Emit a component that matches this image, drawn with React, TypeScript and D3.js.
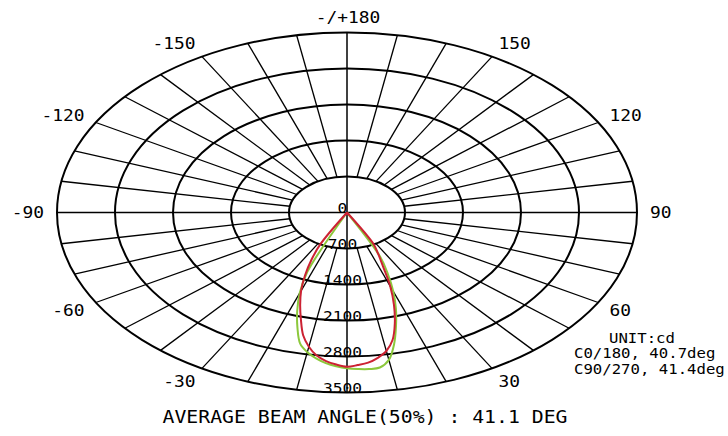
import React from "react";
import * as d3 from "d3";

// ---- data ----
const ringValues = [700, 1400, 2100, 2800, 3500];
const intensityTicks = [0, 700, 1400, 2100, 2800, 3500];
const angleLabels = [-150, -120, -90, -60, -30, 30, 60, 90, 120, 150, 180];
const curveAngles = [-30, -27.5, -25, -22.5, -20, -17.5, -15, -12.5, -10, -7.5, -5, -2.5, 0, 2.5, 5, 7.5, 10, 12.5, 15, 17.5, 20, 22.5, 25, 27.5, 30];
const c0Values = [0, 700, 1015, 1325, 1620, 1880, 2150, 2445, 2650, 2805, 2900, 2960, 3000, 2970, 2930, 2850, 2735, 2540, 2230, 1885, 1525, 1135, 890, 700, 0];
const c90Values = [0, 0, 0, 1250, 1670, 1997, 2312, 2612, 2758, 2860, 2939, 2993, 3030, 3046, 3055, 3040, 2910, 2625, 2285, 1964, 1632, 1284, 940, 0, 0];
const legendLines = ["UNIT:cd", "C0/180, 40.7deg", "C90/270, 41.4deg"];
const footer = "AVERAGE BEAM ANGLE(50%) : 41.1 DEG";

const W = 728, H = 436;
const cx = 347, cy = 212.5, RX = 290, RY = 180;
const FONT = "'DejaVu Sans Mono', monospace";

const r = d3.scaleLinear().domain([0, 3500]).range([0, 1]);
const rad = (deg: number) => (deg * Math.PI) / 180;
const pt = (deg: number, v: number): [number, number] => [
  cx + RX * r(v) * Math.sin(rad(deg)),
  cy + RY * r(v) * Math.cos(rad(deg)),
];

function T({ x, y, anchor = "start", size = 14.5, k = 1.12, children }: any) {
  return (
    <text
      transform={`translate(${x},${y}) scale(${k},1)`}
      textAnchor={anchor}
      fontFamily={FONT}
      fontSize={size}
      fill="#000"
    >
      {children}
    </text>
  );
}

export default function App() {
  const radials = d3.range(-170, 190, 10).filter((a) => a % 90 !== 0);
  const line = d3
    .line<[number, number]>()
    .x((d) => d[0])
    .y((d) => d[1])
    .curve(d3.curveCatmullRom.alpha(0.5));
  const pathFor = (vals: number[]) =>
    line(curveAngles.map((a, i) => pt(a, vals[i]))) || "";

  return (
    <svg width={W} height={H} style={{ position: "absolute", left: 0, top: 0, background: "#fff" }}>
      <rect width={W} height={H} fill="#fff" />
      {radials.map((a) => {
        const [x1, y1] = pt(a, ringValues[0]);
        const [x2, y2] = pt(a, 3500);
        return <line key={a} x1={x1} y1={y1} x2={x2} y2={y2} stroke="#000" strokeWidth={1.3} />;
      })}
      <line x1={cx - RX} y1={cy} x2={cx + RX} y2={cy} stroke="#000" strokeWidth={1.5} />
      <line x1={cx} y1={cy - RY} x2={cx} y2={cy + RY} stroke="#000" strokeWidth={1.5} />
      {ringValues.map((v) => (
        <ellipse key={v} cx={cx} cy={cy} rx={RX * r(v)} ry={RY * r(v)} fill="none" stroke="#000" strokeWidth={2} />
      ))}
      {intensityTicks.map((v) => (
        <T key={v} x={cx - 4.5} y={cy + RY * r(v) + 0.5} anchor="middle" size={14.5}>
          {String(v)}
        </T>
      ))}
      {angleLabels.map((a) => {
        const s = Math.sin(rad(a));
        const x = cx + 303 * s;
        const y = cy + 195 * Math.cos(rad(a)) + 5.8;
        const anchor = Math.abs(s) < 0.01 ? "middle" : s > 0 ? "start" : "end";
        return (
          <T key={a} x={a === 180 ? cx + 1 : x} y={y} anchor={anchor} size={16}>
            {a === 180 ? "-/+180" : String(a)}
          </T>
        );
      })}
      <path d={pathFor(c90Values)} fill="none" stroke="#8cc83c" strokeWidth={2} />
      <path d={pathFor(c0Values)} fill="none" stroke="#cc2233" strokeWidth={2} />
      <T x={609} y={342.5} size={13.5} k={1.16}>{legendLines[0]}</T>
      <T x={574} y={358} size={13.5} k={1.16}>{legendLines[1]}</T>
      <T x={574} y={373.5} size={13.5} k={1.16}>{legendLines[2]}</T>
      <T x={365} y={423} anchor="middle" size={18} k={1.1}>{footer}</T>
    </svg>
  );
}
